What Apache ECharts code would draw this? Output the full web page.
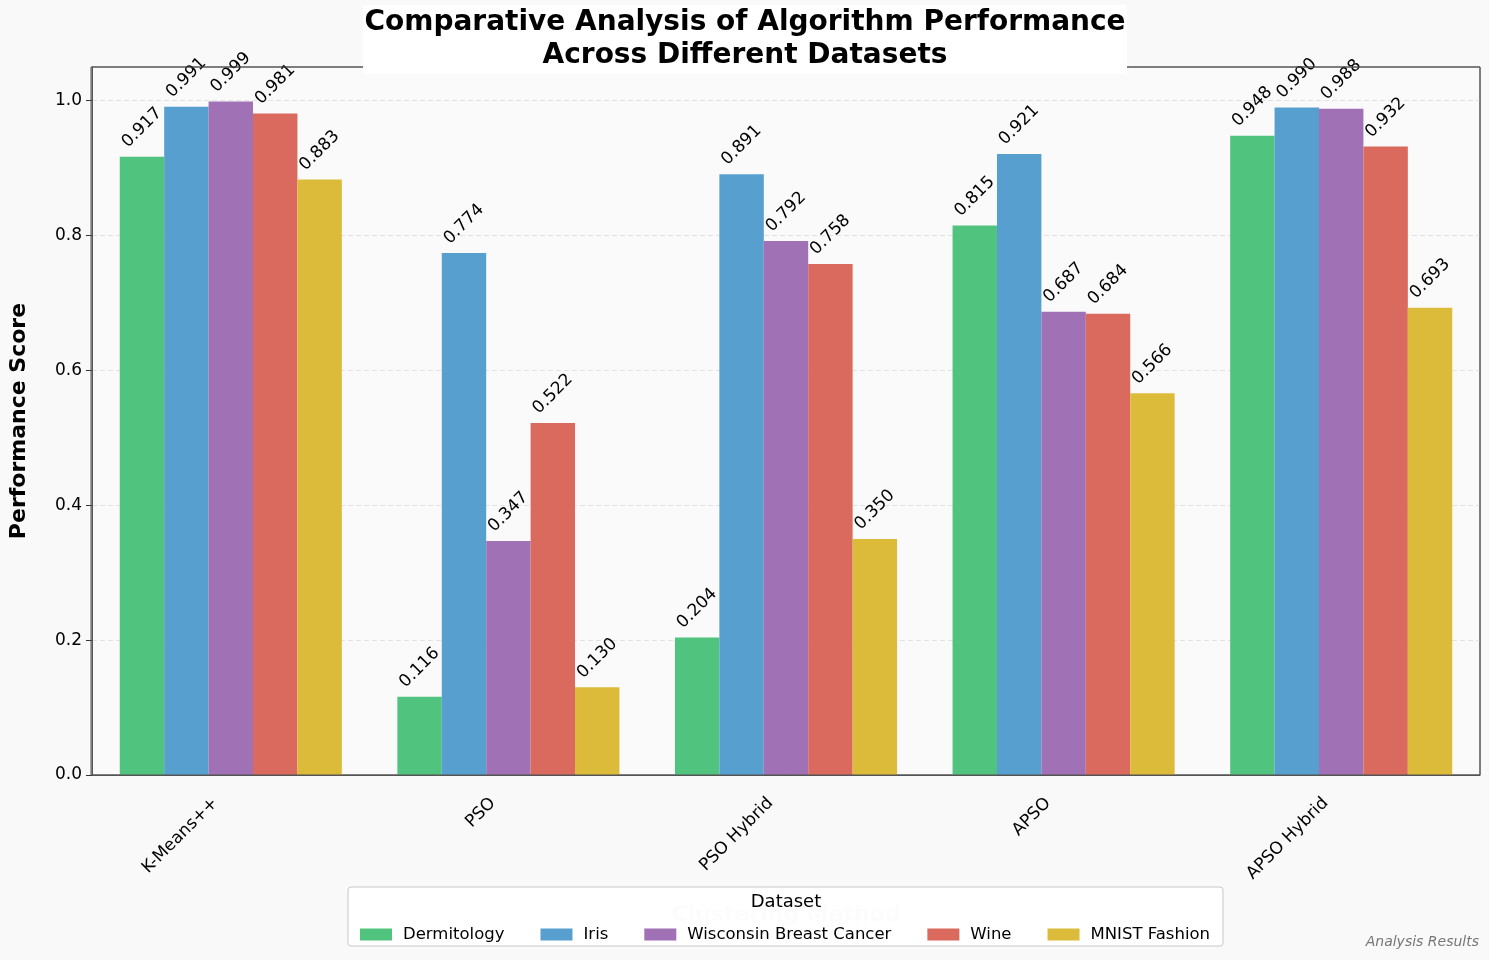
<!DOCTYPE html>
<html><head><meta charset="utf-8">
<script src="https://cdn.jsdelivr.net/npm/echarts@6/dist/echarts.min.js"></script>
<style>html,body{margin:0;padding:0;background:#f9f9f9;}#c{width:1489px;height:960px;}</style>
</head><body><div id="c"></div>
<script>
const categories = ['K-Means++','PSO','PSO Hybrid','APSO','APSO Hybrid'];
const datasets = ['Dermitology','Iris','Wisconsin Breast Cancer','Wine','MNIST Fashion'];
const dermitology = [0.917,0.116,0.204,0.815,0.948];
const iris = [0.991,0.774,0.891,0.921,0.990];
const wisconsin = [0.999,0.347,0.792,0.687,0.988];
const wine = [0.981,0.522,0.758,0.684,0.932];
const mnist = [0.883,0.130,0.350,0.566,0.693];
const yTicks = [0,0.2,0.4,0.6,0.8,1.0];
const colors = ['#50c47e','#579fcf','#a071b4','#da6a5d','#dcbb3b'];
const seriesValues = [dermitology, iris, wisconsin, wine, mnist];
const font = 'DejaVu Sans';
const chart = echarts.init(document.getElementById('c'));
chart.setOption({
  backgroundColor:'#f9f9f9',
  animation:false,
  textStyle:{fontFamily:font},
  graphic:[
    {type:'rect',z:9,shape:{x:91,y:67,width:1389,height:708},style:{fill:'none',stroke:'#555',lineWidth:1}},
    {type:'rect',z:10,shape:{x:363,y:5,width:764,height:69},style:{fill:'#ffffff'}},
    {type:'text',z:11,x:745,y:6,style:{text:'Comparative Analysis of Algorithm Performance\nAcross Different Datasets',font:'bold 28px "DejaVu Sans"',fill:'#000',align:'center',lineHeight:33}},
    {type:'rect',z:20,shape:{x:348,y:887,width:875,height:59,r:3},style:{fill:'rgba(255,255,255,0.88)',stroke:'#c8c8c8',lineWidth:1}},
    {type:'text',z:21,x:786,y:893,style:{text:'Dataset',font:'18px "DejaVu Sans"',fill:'#000',align:'center'}},
    {type:'text',z:21,right:10,bottom:11,style:{text:'Analysis Results',font:'italic 14px "DejaVu Sans"',fill:'#777'}}
  ],
  legend:{
    z:22,
    data:datasets,
    left:355,top:921,
    itemWidth:32,itemHeight:12,itemGap:36,
    icon:'rect',
    textStyle:{fontSize:16.5,color:'#000',fontFamily:font,padding:[0,0,0,6]}
  },
  grid:{left:91,right:9,top:67,bottom:185,show:true,borderColor:'#555',borderWidth:1,backgroundColor:'#fafafa'},
  xAxis:{
    type:'category',data:categories,
    name:'Clustering Method',nameLocation:'middle',nameGap:129,
    nameTextStyle:{fontSize:22,fontWeight:'bold',color:'#e6e6e6'},
    axisLine:{lineStyle:{color:'#555'}},
    axisTick:{alignWithLabel:true,length:6,lineStyle:{color:'#333'}},
    axisLabel:{rotate:45,fontSize:17,color:'#000',margin:10,interval:0,padding:[0,22,0,0]}
  },
  yAxis:{
    type:'value',min:0,max:1.05,interval:0.2,
    name:'Performance Score',nameLocation:'middle',nameGap:62,
    nameTextStyle:{fontSize:22,fontWeight:'bold',color:'#000'},
    axisLine:{show:true,lineStyle:{color:'#555'}},
    axisTick:{show:true,length:6,lineStyle:{color:'#333'}},
    axisLabel:{fontSize:17,color:'#000',margin:10,showMaxLabel:false,formatter:v=>yTicks.some(t=>Math.abs(t-v)<1e-9)?v.toFixed(1):''},
    splitLine:{showMaxLine:false,lineStyle:{color:'#e2e2e2',type:[5,3]}}
  },
  series:datasets.map((d,i)=>({
    name:d,type:'bar',data:seriesValues[i],
    barGap:'0%',barCategoryGap:'20%',
    itemStyle:{color:colors[i]},
    label:{show:true,position:'top',distance:29,rotate:45,align:'center',verticalAlign:'middle',
      fontSize:17,color:'#000',formatter:p=>p.value.toFixed(3)}
  }))
});
</script></body></html>
